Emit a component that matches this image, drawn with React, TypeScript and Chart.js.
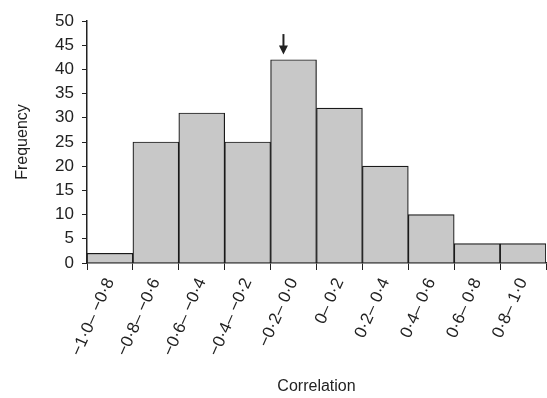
import React, { useEffect, useRef } from "react";
import { Chart, registerables } from "chart.js";

Chart.register(...registerables);

const categories = [
  "\u22121\u00B70\u2013 \u22120\u00B78",
  "\u22120\u00B78\u2013 \u22120\u00B76",
  "\u22120\u00B76\u2013 \u22120\u00B74",
  "\u22120\u00B74\u2013 \u22120\u00B72",
  "\u22120\u00B72\u2013 0\u00B70",
  "0\u2013 0\u00B72",
  "0\u00B72\u2013 0\u00B74",
  "0\u00B74\u2013 0\u00B76",
  "0\u00B76\u2013 0\u00B78",
  "0\u00B78\u2013 1\u00B70",
];
const frequencies = [2, 25, 31, 25, 42, 32, 20, 10, 4, 4];
const yTicks = [0, 5, 10, 15, 20, 25, 30, 35, 40, 45, 50];
// arrow annotation: category index, offset within bar (fraction), from/to values
const arrowCategory = 4;
const arrowOffset = -0.22;
const arrowFrom = 47.3;
const arrowTo = 43.1;

const arrowPlugin = {
  id: "arrowPlugin",
  afterDatasetsDraw(chart: any) {
    const { ctx, scales } = chart;
    const xs = scales.x;
    const ys = scales.y;
    const w = xs.getPixelForValue(1) - xs.getPixelForValue(0);
    const x = xs.getPixelForValue(arrowCategory) + arrowOffset * w;
    const y1 = ys.getPixelForValue(arrowFrom);
    const y2 = ys.getPixelForValue(arrowTo);
    ctx.save();
    ctx.strokeStyle = "#222";
    ctx.fillStyle = "#222";
    ctx.lineWidth = 2;
    ctx.beginPath();
    ctx.moveTo(x, y1);
    ctx.lineTo(x, y2 - 7);
    ctx.stroke();
    ctx.beginPath();
    ctx.moveTo(x - 4.5, y2 - 9);
    ctx.lineTo(x + 4.5, y2 - 9);
    ctx.lineTo(x, y2);
    ctx.closePath();
    ctx.fill();
    ctx.restore();
  },
};

export default function App() {
  const ref = useRef<HTMLCanvasElement>(null);
  useEffect(() => {
    document.body.style.margin = "0";
    const font = "'Liberation Sans', Arial, Helvetica, sans-serif";
    const chart = new Chart(ref.current!, {
      type: "bar",
      data: {
        labels: categories,
        datasets: [
          {
            data: frequencies,
            backgroundColor: "#c8c8c8",
            borderColor: "#1a1a1a",
            borderWidth: 1.2,
            categoryPercentage: 1,
            barPercentage: 1,
          },
        ],
      },
      options: {
        animation: false,
        responsive: false,
        devicePixelRatio: 1,
        layout: { padding: { top: 21, right: 1, left: 0, bottom: 0 } },
        plugins: { legend: { display: false }, tooltip: { enabled: false } },
        scales: {
          x: {
            afterFit: (scale: any) => {
              scale.height = 135;
            },
            grid: {
              offset: true,
              drawOnChartArea: false,
              drawTicks: true,
              tickLength: 7,
              color: "#222",
            },
            border: { color: "#222", width: 1.5 },
            ticks: {
              minRotation: 66,
              maxRotation: 66,
              autoSkip: false,
              color: "#222",
              font: { family: font, size: 17 },
              padding: 5,
            },
            title: {
              display: true,
              text: "Correlation",
              color: "#222",
              font: { family: font, size: 16 },
              padding: { top: 0, bottom: 2 },
            },
          },
          y: {
            min: 0,
            max: 50,
            afterFit: (scale: any) => {
              scale.width = 87;
            },
            afterBuildTicks: (scale: any) => {
              scale.ticks = yTicks.map((v) => ({ value: v }));
            },
            grid: {
              drawOnChartArea: false,
              drawTicks: true,
              tickLength: 5,
              color: "#222",
            },
            border: { color: "#222", width: 1.5 },
            ticks: {
              color: "#222",
              font: { family: font, size: 17 },
              padding: 8,
            },
            title: {
              display: true,
              text: "Frequency",
              color: "#222",
              font: { family: font, size: 16 },
              padding: { top: 13, bottom: 0 },
            },
          },
        },
      },
      plugins: [arrowPlugin],
    });
    return () => chart.destroy();
  }, []);
  return <canvas ref={ref} width={547} height={398} style={{ display: "block" }} />;
}
